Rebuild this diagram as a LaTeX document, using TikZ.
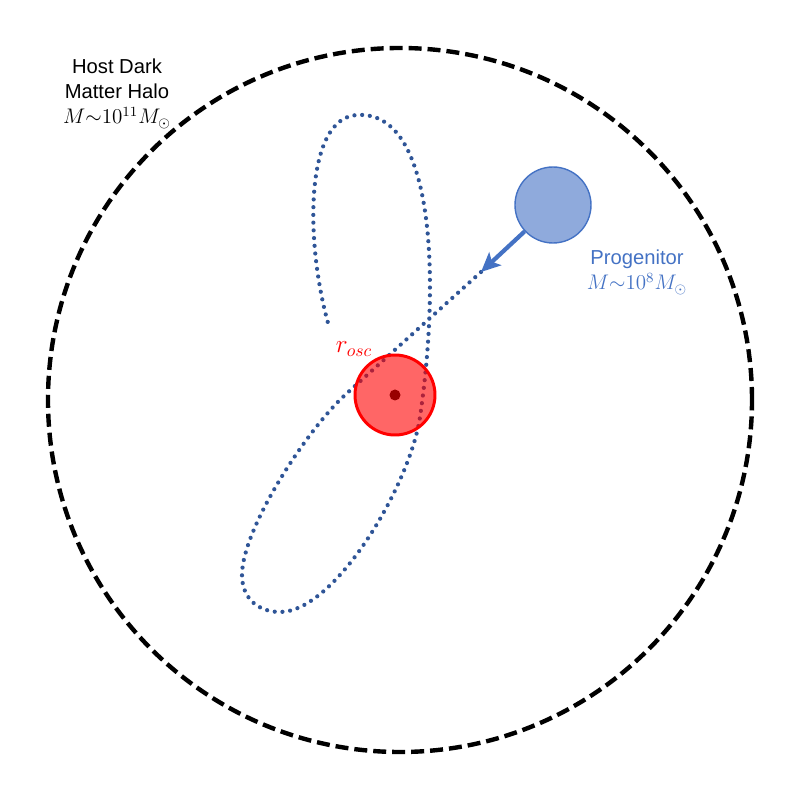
\documentclass[tikz,border=0pt]{standalone}
\usepackage{fontspec}
\setmainfont{Liberation Sans}
\usetikzlibrary{arrows.meta}
\definecolor{orbitblue}{HTML}{2F5597}
\definecolor{progblue}{HTML}{4472C4}
\definecolor{progfill}{HTML}{8FAADC}
\definecolor{darkred}{HTML}{990000}

\begin{document}
\begin{tikzpicture}[x=0.2mm,y=0.2mm,font=\fontsize{11.5}{14.2}\selectfont]
\tikzstyle{ball}=[draw,circle,inner sep=0pt]
\tikzstyle{lbl}=[align=center,anchor=north,inner sep=0pt]
\tikzstyle{orbit}=[orbitblue,line width=2.4pt,line cap=round,dash pattern=on 0pt off 4.4pt]
\useasboundingbox (0,0) rectangle (800,800);
% host halo
\node [ball,dashed,line width=2.5pt,dash pattern=on 7.4pt off 3.4pt,minimum size=140.8mm] (halo) at (400,400) {};
\node [lbl] (halotext) at (117,741) {Host Dark\\Matter Halo\\$M{\sim}10^{11}M_\odot$};
% orbit of the progenitor
\coordinate (tip) at (481,528);
\draw[orbit] (tip) -- (345,405)
    .. controls (305,368) and (242,270) .. (242,225)
    .. controls (242,200) and (260,188) .. (280,188)
    .. controls (335,188) and (410,315) .. (420,383)
    .. controls (440,520) and (435,690) .. (357,685)
    .. controls (305,682) and (305,560) .. (328,477);
% core
\node [ball,draw=red,line width=1.7pt,fill=red,fill opacity=0.6,minimum size=16mm] (core) at (395,405) {};
\node [circle,fill=darkred,inner sep=0pt,minimum size=2.2mm] (centre) at (core) {};
\node [text=red,font=\fontsize{14.5}{16}\selectfont] (rosc) at (354,451) {$r_{osc}$};
% progenitor
\node [ball,draw=progblue,fill=progfill,line width=0.8pt,minimum size=15.2mm] (prog) at (553,595) {};
\draw[progblue,line width=2.4pt,-{Stealth[length=11pt,width=10pt,inset=2.5pt]}] (prog) -- (tip);
\node [lbl,text=progblue] (progtext) at (637,550) {Progenitor\\$M{\sim}10^8M_\odot$};
\end{tikzpicture}
\end{document}
